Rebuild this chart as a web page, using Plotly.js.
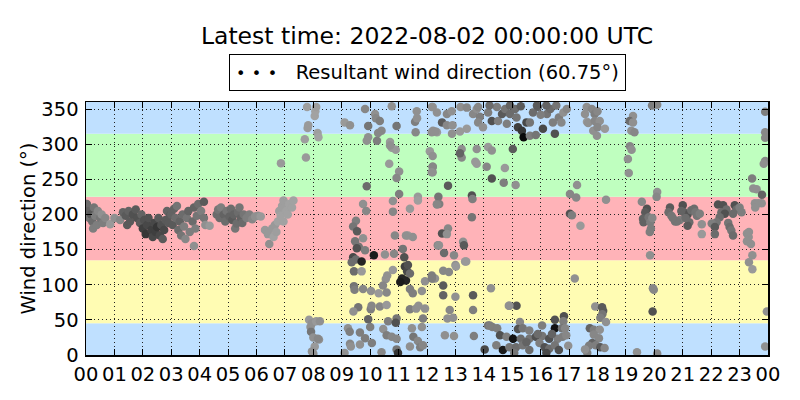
<!DOCTYPE html>
<html>
<head>
<meta charset="utf-8">
<script src="https://cdn.plot.ly/plotly-3.0.1.min.js"></script>
<style>html,body{margin:0;padding:0;background:#fff;}#chart{width:800px;height:400px;}</style>
</head>
<body>
<div id="chart"></div>
<script>
// Observations: [hour of day, wind direction (deg), darkness 0..1]
const obsNight = [
  [0.02,198,.35],[0.03,215,.4],[0.08,205,.45],[0.12,195,.35],[0.18,200,.5],[0.22,190,.4],[0.25,180,.3],[0.28,210,.35],
  [0.32,198,.3],[0.38,185,.3],[0.42,205,.25],[0.5,195,.35],[0.55,200,.2],[0.6,188,.3],[0.68,195,.25],[0.85,186,.15],
  [1.0,195,.2],[1.2,192,.25],[1.3,203,.45],[1.4,198,.5],[1.45,185,.5],[1.5,205,.45],[1.55,190,.5],[1.65,200,.55],
  [1.75,207,.5],[1.8,195,.55],[1.9,188,.5],[1.95,200,.45],
  [2.0,180,.65],[2.05,192,.55],[2.1,172,.7],[2.15,185,.6],[2.2,195,.55],[2.3,178,.65],[2.35,168,.6],[2.4,188,.6],
  [2.45,175,.65],[2.5,182,.7],[2.55,195,.5],[2.6,170,.6],[2.65,185,.55],[2.7,165,.5],[2.75,178,.6],[2.8,192,.5],
  [2.85,205,.45],[2.9,188,.5],[2.95,198,.5],
  [3.0,200,.45],[3.05,185,.5],[3.1,208,.45],[3.15,195,.4],[3.2,212,.35],[3.25,178,.4],[3.3,190,.45],[3.35,170,.35],
  [3.4,200,.4],[3.45,183,.3],[3.5,165,.25],[3.55,195,.35],[3.6,205,.45],[3.65,175,.3],[3.8,155,.2],[3.75,190,.4],
  [3.8,210,.45],[3.85,180,.3],[3.9,198,.35],[3.95,215,.4],[4.05,205,.3],[4.15,218,.5],[4.15,195,.35],[4.2,185,.2],[4.35,184,.15]
];
const obsMorning = [
  [4.6,200,.4],[4.65,207,.35],[4.7,195,.4],[4.75,210,.3],[4.85,200,.45],[4.9,190,.4],[4.95,205,.35],[5.05,197,.45],
  [5.1,208,.4],[5.15,192,.5],[5.2,200,.45],[5.25,180,.35],[5.3,187,.4],[5.35,203,.4],[5.4,210,.35],[5.45,195,.45],
  [5.5,188,.4],[5.55,200,.35],[5.65,195,.3],[5.75,200,.3],[5.85,193,.25],[5.95,197,.2],[6.05,198,.2],[6.15,197,.15],
  [6.3,178,.15],[6.4,172,.15],[6.45,158,.2],[6.55,180,.15],[6.6,168,.1],[6.65,185,.15],[6.7,175,.12],[6.75,190,.1],
  [6.8,205,.12],[6.85,198,.1],[6.9,212,.12],[6.95,190,.1],[6.95,220,.12],[7.05,205,.1],[7.1,200,.1],[7.15,215,.1],
  [7.25,210,.1],[7.3,220,.1],[6.86,273,.15],
  [7.7,307,.12],[7.74,281,.15],[7.78,353,.12],[7.8,323,.15],[7.82,327,.15],[8.05,340,.1],[8.07,347,.1],[8.1,353,.12],
  [8.15,316,.12],[8.18,310,.1],[7.85,50,.15],[7.9,40,.2],[7.92,33,.35],[7.95,45,.2],[8.0,25,.2],[8.05,12,.15],
  [7.95,5,.2],[8.1,48,.15],[8.2,22,.2],[8.0,2,.2],[8.23,48,.2],[8.16,23,.25]
];
const obsMidday = [
  [9.1,331,.15],[9.29,327,.2],[9.82,350,.25],[10.17,343,.2],[10.2,337,.25],[10.34,333,.3],[9.93,326,.35],[10.4,319,.25],
  [10.24,305,.3],[9.93,310,.2],[10.7,303,.15],[10.76,295,.15],[10.9,292,.15],[10.67,272,.15],[11.02,261,.2],[10.93,252,.25],
  [9.88,240,.4],[11.02,229,.3],[10.93,326,.35],[10.76,354,.2],[11.64,347,.2],[11.58,332,.3],[11.6,317,.25],[11.65,337,.2],
  [12.17,317,.2],[12.35,317,.15],[12.1,290,.15],[12.2,268,.3],[12.2,260,.2],[11.68,225,.15],[11.68,220,.12],[11.4,208,.15],
  [11.33,170,.15],[11.5,168,.2],[10.87,170,.25],[10.8,219,.2],[10.8,204,.25],[9.75,215,.2],[9.86,205,.25],[9.5,191,.3],
  [9.4,183,.35],[9.54,176,.5],[9.47,162,.35],[9.75,166,.2],[9.6,154,.35],[9.53,152,.55],[10.13,142,.85],[9.82,149,.3],
  [9.4,139,.6],[9.5,136,.4],[9.7,133,.8],[9.35,132,.4],[10.52,143,.2],[10.84,144,.25],[11.15,151,.35],[11.26,170,.2],
  [11.2,139,.55],[11.22,126,.65],[11.3,119,.6],[11.12,109,.8],[11.26,106,.8],[11.06,104,.85],[11.33,128,.55],[11.4,116,.4],
  [10.8,121,.15],[10.6,113,.2],[10.55,108,.2],[10.45,99,.25],[9.43,119,.4],[9.7,119,.15],[9.43,98,.35],[9.45,93,.3],
  [9.75,94,.25],[10.03,91,.2],[10.3,88,.15],[10.58,89,.25],[11.4,94,.3],[11.5,88,.3],[11.82,91,.2],[11.93,105,.2],
  [12.2,109,.25],[9.58,68,.35],[9.41,62,.2],[10.02,65,.3],[10.05,70,.25],[10.34,69,.25],[10.58,71,.15],[10.93,52,.35],
  [11.4,65,.3],[11.62,66,.2],[11.7,70,.2],[11.93,66,.2],[11.86,52,.3],[9.93,51,.45],[10.63,48,.3],[10.9,46,.55],
  [9.22,38,.2],[9.28,33,.3],[9.64,32,.3],[10.0,40,.3],[9.82,24,.3],[10.06,17,.3],[9.29,16,.25],[9.32,12,.2],
  [9.64,15,.2],[9.1,3,.2],[10.46,37,.2],[10.58,28,.3],[10.76,26,.25],[10.93,23,.25],[10.93,8,.35],[10.4,4,.25],
  [11.47,38,.2],[11.82,40,.2],[11.52,26,.35],[11.68,20,.25],[11.76,11,.3],[11.86,14,.25],[11.4,12,.2],[10.98,3,.7],
  [12.17,353,.2],[12.3,318,.2],[12.35,215,.2],[12.38,156,.25],[12.28,109,.2],[9.88,305,.2],[10.28,316,.25],[10.7,298,.2]
];
const obsAfternoon = [
  [12.7,343,.25],[12.87,347,.2],[12.53,331,.5],[12.7,327,.25],[12.9,327,.2],[12.21,319,.2],[12.88,315,.2],[13.16,318,.15],
  [13.4,322,.15],[13.62,343,.25],[13.75,350,.2],[13.86,339,.3],[13.8,331,.25],[13.97,324,.2],[13.8,353,.25],[14.15,345,.3],
  [14.28,333,.55],[14.46,353,.3],[14.5,333,.3],[14.64,343,.5],[14.75,350,.35],[14.81,329,.3],[14.92,343,.4],[15.1,350,.4],
  [15.2,324,.65],[15.34,319,.7],[15.4,310,.95],[15.5,331,.6],[15.62,331,.35],[15.62,312,.3],[15.83,313,.35],[15.73,345,.4],
  [15.9,353,.45],[16.08,322,.6],[16.22,343,.35],[16.34,350,.4],[16.5,315,.55],[16.64,338,.3],[16.8,345,.2],[16.92,350,.25],
  [12.35,345,.2],[12.2,353,.2],[13.18,353,.2],[13.4,352,.25],[14.2,355,.4],[14.92,355,.45],[15.3,354,.5],[15.87,355,.5],
  [16.2,355,.45],[16.55,355,.35],[16.0,342,.3],[16.43,331,.3],[17.63,332,.15],[15.15,338,.35],[16.73,331,.25],
  [12.2,283,.2],[13.22,293,.2],[13.22,281,.25],[13.16,287,.45],[13.75,293,.2],[14.15,296,.15],[14.28,291,.2],[13.7,275,.15],
  [13.75,272,.15],[14.1,268,.25],[14.74,266,.15],[15.02,293,.5],[12.2,268,.25],[12.17,260,.2],[14.28,251,.55],[14.7,245,.3],
  [15.12,242,.2],[12.74,241,.5],[17.28,242,.2],[17.03,229,.25],[17.25,224,.25],
  [12.4,225,.35],[12.43,215,.3],[12.35,214,.25],[13.58,227,.55],[13.6,222,.3],[13.58,196,.35],[17.03,201,.55],[17.1,199,.3],
  [17.4,184,.15],[12.74,180,.25],[12.53,173,.55],[12.7,172,.2],[12.42,156,.2],[13.27,161,.2],[13.3,156,.5],[12.6,145,.4],
  [12.95,142,.25],[13.0,128,.2],[13.02,126,.15],[13.34,133,.15],[13.38,133,.15],
  [12.17,113,.3],[12.17,109,.3],[12.57,120,.25],[12.77,118,.25],[12.57,99,.5],[12.57,85,.45],[13.0,83,.2],[13.62,85,.5],
  [14.25,95,.2],[13.62,64,.3],[12.8,64,.25],[12.72,52,.2],[12.92,53,.2],[14.88,70,.2],[15.15,70,.55],[17.2,109,.2],
  [16.5,50,.55],[16.82,55,.55],[16.8,48,.3],
  [12.63,28,.2],[12.95,27,.2],[13.65,27,.3],[14.15,42,.35],[14.3,40,.3],[14.47,38,.3],[15.27,47,.25],[15.2,37,.55],
  [15.37,38,.35],[15.6,35,.3],[16.05,42,.3],[16.5,38,.9],[16.75,38,.35],[16.86,38,.25],[14.57,28,.55],[14.8,26,.3],
  [15.03,23,.9],[15.3,23,.4],[15.6,23,.35],[15.83,26,.55],[16.06,27,.35],[16.3,23,.55],[16.6,23,.3],[16.77,26,.3],
  [16.9,28,.25],[14.03,8,.6],[14.44,14,.3],[14.67,7,.85],[14.9,11,.35],[15.13,11,.4],[15.37,14,.35],[15.6,7,.4],
  [15.96,17,.3],[16.14,11,.55],[16.3,9,.4],[16.5,14,.35],[16.64,7,.55],[16.97,13,.2],[16.2,3,.6],[15.07,3,.35],
  [14.21,42,.3],[14.9,70,.2],[15.9,30,.4],[16.4,30,.45],[15.5,18,.45]
];
const obsEvening = [
  [17.62,353,.2],[17.8,350,.25],[17.9,343,.3],[18.0,347,.25],[17.67,330,.2],[17.9,333,.25],[18.08,333,.2],[17.85,319,.2],
  [18.0,324,.25],[18.26,322,.15],[17.98,312,.2],[17.56,343,.2],[19.25,340,.2],[19.13,333,.4],[19.25,331,.2],[19.19,319,.2],
  [19.3,317,.25],[19.92,355,.3],[20.1,356,.25],
  [19.14,297,.25],[19.2,292,.2],[19.07,279,.2],[19.1,259,.2],[23.44,251,.3],[23.48,237,.2],[23.6,236,.2],[23.79,228,.45],
  [23.9,346,.3],[23.9,317,.25],[23.9,309,.25],[23.9,276,.25],[23.85,272,.2],
  [20.1,232,.2],[20.08,225,.25],[18.3,221,.2],[19.56,218,.25],[19.74,208,.55],[19.68,203,.5],[19.6,194,.45],[19.62,189,.45],
  [19.8,196,.35],[19.86,189,.3],[19.88,180,.3],[19.84,175,.3],[19.93,195,.25],[19.85,142,.2],
  [20.55,210,.5],[20.5,203,.4],[20.6,198,.35],[20.73,190,.35],[20.9,192,.3],[21.0,213,.55],[21.05,203,.45],[21.17,200,.55],
  [21.3,206,.4],[21.4,208,.4],[21.45,203,.35],[21.23,189,.4],[21.17,184,.5],[21.5,198,.35],[21.6,201,.3],[21.67,186,.2],
  [20.8,190,.35],[20.65,195,.35],[20.95,205,.45],[21.1,195,.4],
  [22.24,214,.55],[22.42,213,.55],[22.54,207,.4],[22.36,203,.4],[22.48,201,.55],[22.3,196,.4],[22.19,189,.35],[22.02,187,.3],
  [22.13,182,.5],[22.13,172,.4],[22.6,188,.35],[22.65,182,.4],[22.71,177,.35],[22.77,170,.4],[22.83,213,.55],[22.89,207,.4],
  [23.0,210,.3],[23.07,203,.3],[22.77,201,.4],[21.67,172,.15],
  [23.26,173,.2],[23.32,168,.2],[23.26,162,.2],[23.4,158,.2],[23.33,175,.2],[23.45,142,.2],[23.33,132,.2],[23.45,122,.15],
  [23.54,216,.2],[23.66,216,.2],[23.78,216,.2],[23.55,210,.2],
  [19.95,95,.25],[19.98,93,.25],[19.94,62,.55],[23.96,62,.2],[17.92,69,.2],[18.16,68,.5],[18.2,63,.5],[18.17,58,.35],
  [18.1,53,.3],[18.3,47,.2],
  [17.73,38,.45],[17.87,36,.3],[18.08,36,.2],[17.87,29,.25],[18.05,24,.25],[17.82,17,.45],[17.7,13,.3],[17.94,14,.3],
  [18.1,11,.5],[17.64,3,.3],[18.25,10,.25],[17.56,8,.2],[19.39,4,.2],[20.1,2,.25],[23.9,12,.2]
];
const hourTickLabels = ['00','01','02','03','04','05','06','07','08','09','10','11','12','13','14','15','16','17','18','19','20','21','22','23','00'];
const directionTicks = [0,50,100,150,200,250,300,350];
const sectorBounds = [0,45,135,225,315,360];
const sectorColors = ['#bfe0ff','#fffcb3','#ffb3b8','#bfffbf','#bfe0ff'];
const titleText = 'Latest time: 2022-08-02 00:00:00 UTC';
const legendText = 'Resultant wind direction (60.75°)';

const allObs = [].concat(obsNight, obsMorning, obsMidday, obsAfternoon, obsEvening);
const hours = allObs.map(o => o[0]);
const dirs = allObs.map(o => o[1]);
const shades = allObs.map(o => o[2]);

const font = 'DejaVu Sans, Liberation Sans, sans-serif';
const fs = 19.5;

const shapes = [];
for (let i = 0; i < sectorColors.length; i++) {
  shapes.push({type:'rect', xref:'paper', yref:'y', x0:0, x1:1, y0:sectorBounds[i], y1:sectorBounds[i+1],
    fillcolor:sectorColors[i], line:{width:0}, layer:'below'});
}

const trace = {
  type:'scatter', mode:'markers', x:hours, y:dirs, name:legendText, showlegend:false,
  marker:{size:8.5, color:shades, cmin:0, cmax:1,
    colorscale:[[0,'#b4b4b4'],[1,'#000000']], line:{width:0}},
  hoverinfo:'x+y'
};

const axisCommon = {
  showgrid:true, gridcolor:'#222', griddash:'1px,3px', gridwidth:1,
  ticks:'inside', ticklen:6, tickwidth:1, tickcolor:'#000', showline:true, linecolor:'#000', linewidth:1.5, mirror:'ticks',
  zeroline:false, tickfont:{size:fs, family:font, color:'#000'}, fixedrange:true
};

const layout = {
  width:800, height:400,
  margin:{l:86, r:32, t:102, b:45},
  paper_bgcolor:'#ffffff', plot_bgcolor:'#ffffff',
  font:{family:font, color:'#000', size:fs},
  title:{text:titleText, font:{family:font, size:23.5, color:'#000'}, x:0.5, xref:'paper', xanchor:'center', y:0.91, yref:'container', yanchor:'middle'},
  xaxis:Object.assign({range:[0,24], tickvals:hourTickLabels.map((_,i)=>i), ticktext:hourTickLabels, ticklabelstandoff:1}, axisCommon),
  yaxis:Object.assign({range:[0,360], tickvals:directionTicks, ticklabelstandoff:2,
    title:{text:'Wind direction (°)', font:{size:fs, family:font, color:'#000'}, standoff:0}}, axisCommon),
  shapes:shapes,
  annotations:[{
    xref:'paper', yref:'paper', x:0.5, y:1.118, xanchor:'center', yanchor:'middle', showarrow:false,
    text:'<span style="font-size:16px">•\u2009\u2009•\u2009\u2009•</span>   ' + legendText,
    font:{family:font, size:fs, color:'#000'},
    bordercolor:'#000', borderwidth:1, borderpad:6, bgcolor:'#fff'
  }]
};

Plotly.newPlot('chart', [trace], layout, {staticPlot:true, displayModeBar:false});
</script>
</body>
</html>
